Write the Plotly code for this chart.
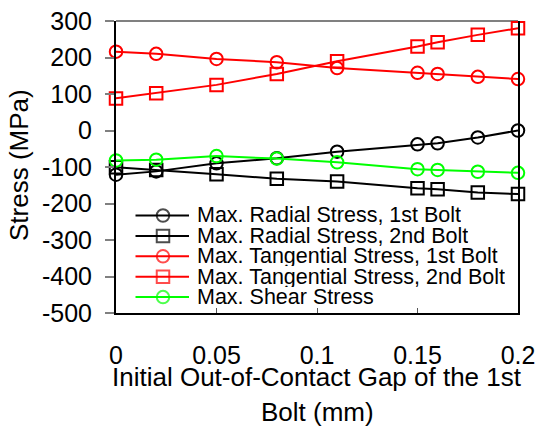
import plotly.graph_objects as go

# ---- data ----
gap_mm = [0, 0.02, 0.05, 0.08, 0.11, 0.15, 0.16, 0.18, 0.2]
radial_1st = [-121, -112, -90, -76, -58, -38, -35, -19, 0]
radial_2nd = [-101, -108, -120, -132, -140, -158, -161, -170, -174]
tang_1st = [216, 210, 196, 187, 171, 158, 155, 147, 141]
tang_2nd = [88, 102, 125, 155, 190, 230, 242, 262, 280]
shear = [-82, -80, -70, -77, -87, -106, -108, -113, -116]

series_names = [
    "Max. Radial Stress, 1st Bolt",
    "Max. Radial Stress, 2nd Bolt",
    "Max. Tangential Stress, 1st Bolt",
    "Max. Tangential Stress, 2nd Bolt",
    "Max. Shear Stress",
]
series_values = [radial_1st, radial_2nd, tang_1st, tang_2nd, shear]
series_colors = ["#000000", "#000000", "#FF0000", "#FF0000", "#00FF00"]
series_symbols = ["circle-open", "square-open", "circle-open", "square-open", "circle-open"]

x_tickvals = [0, 0.05, 0.1, 0.15, 0.2]
x_ticktext = ["0", "0.05", "0.1", "0.15", "0.2"]
y_tickvals = [300, 200, 100, 0, -100, -200, -300, -400, -500]
y_ticktext = ["300", "200", "100", "0", "-100", "-200", "-300", "-400", "-500"]
x_title_lines = ["Initial Out-of-Contact Gap of the 1st", "Bolt (mm)"]
y_title = "Stress (MPa)"

FONT = "Liberation Sans, Arial, sans-serif"
W, H = 538, 428
L, R, T, B = 116, 518, 21, 313


def px_to_paper(px, py):
    return (px - L) / (R - L), (B - py) / (B - T)


fig = go.Figure()

for name, vals, col, sym in zip(series_names, series_values, series_colors, series_symbols):
    fig.add_trace(go.Scatter(
        x=gap_mm, y=vals, mode="lines+markers", name=name,
        line=dict(color=col, width=2),
        marker=dict(symbol=sym, size=12.5, color=col, line=dict(color=col, width=2)),
        showlegend=False, cliponaxis=False,
    ))

# ---- compact legend drawn on a pixel-coordinate overlay axis ----
leg_x0, leg_x1, leg_xm, leg_text_x = 135.5, 189, 163, 195
leg_y0, leg_dy = 215.5, 20.4
for i, (name, col, sym) in enumerate(zip(series_names, series_colors, series_symbols)):
    yy = leg_y0 + i * leg_dy
    fig.add_trace(go.Scatter(
        x=[leg_x0, leg_xm, leg_x1], y=[yy, yy, yy], mode="lines+markers",
        line=dict(color=col, width=2),
        marker=dict(symbol=sym, size=[0, 12.5, 0], color=col, line=dict(color=col, width=2)),
        xaxis="x2", yaxis="y2", showlegend=False, hoverinfo="skip", cliponaxis=False,
    ))
    ax_, ay_ = px_to_paper(leg_text_x, yy)
    fig.add_annotation(
        x=ax_, y=ay_, xref="paper", yref="paper", text=name, showarrow=False,
        xanchor="left", yanchor="middle", height=20, valign="middle",
        font=dict(family=FONT, size=21.5, color="#000"),
    )

# axis titles
for line_text, cy in zip(x_title_lines, [376.5, 412]):
    tx, ty = px_to_paper((L + R) / 2, cy)
    fig.add_annotation(x=tx, y=ty, xref="paper", yref="paper", text=line_text, showarrow=False,
                       xanchor="center", yanchor="middle",
                       font=dict(family=FONT, size=26, color="#000"))
tx, ty = px_to_paper(19, 165)
fig.add_annotation(x=tx, y=ty, xref="paper", yref="paper", text=y_title, showarrow=False,
                   textangle=-90, xanchor="center", yanchor="middle",
                   font=dict(family=FONT, size=26, color="#000"))

# top border (gray)
fig.add_shape(type="line", xref="paper", yref="paper", x0=0, x1=1, y0=1, y1=1,
              line=dict(color="#808080", width=2), layer="below")

fig.update_layout(
    width=W, height=H,
    margin=dict(l=L, r=W - R, t=T, b=H - B),
    paper_bgcolor="white", plot_bgcolor="white",
    font=dict(family=FONT, color="#000"),
    showlegend=False,
    xaxis=dict(
        range=[0, 0.2], tickvals=x_tickvals, ticktext=x_ticktext,
        showgrid=False, zeroline=False, automargin=False,
        showline=True, linecolor="#000", linewidth=2, mirror=False,
        ticks="inside", ticklen=5, tickwidth=1, tickcolor="#555",
        tickfont=dict(family=FONT, size=25, color="#000"),
        ticklabelstandoff=19,
    ),
    yaxis=dict(
        range=[-500, 300], tickvals=y_tickvals, ticktext=y_ticktext,
        showgrid=False, zeroline=False, automargin=False,
        showline=True, linecolor="#000", linewidth=2, mirror=True,
        ticks="outside", ticklen=9, tickwidth=1.5, tickcolor="#808080",
        tickfont=dict(family=FONT, size=25, color="#000"),
        ticklabelstandoff=8,
    ),
    xaxis2=dict(domain=[0, 1], range=[L, R], overlaying="x", visible=False,
                fixedrange=True, automargin=False),
    yaxis2=dict(domain=[0, 1], range=[B, T], overlaying="y", visible=False,
                fixedrange=True, automargin=False),
)

fig.write_html("out.html")
